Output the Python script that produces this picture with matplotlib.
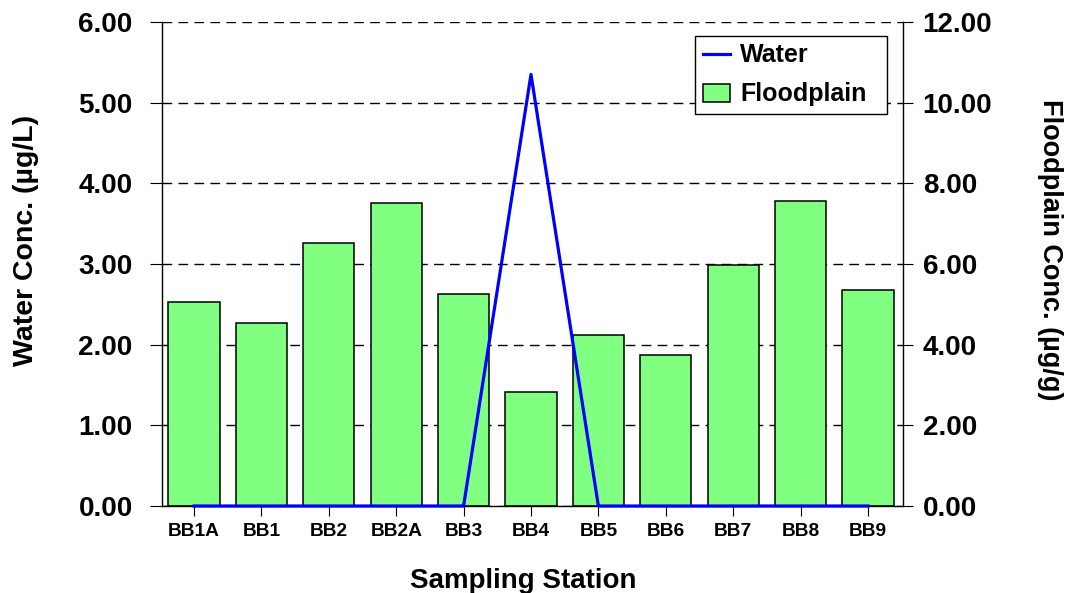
import matplotlib
matplotlib.use("Agg")
import matplotlib.pyplot as plt
from matplotlib.lines import Line2D
from matplotlib.patches import Patch
from matplotlib.ticker import FormatStrFormatter, MultipleLocator

plt.rcParams['font.family'] = ['Liberation Sans', 'DejaVu Sans']
plt.rcParams['font.weight'] = 'bold'

stations = ["BB1A", "BB1", "BB2", "BB2A", "BB3", "BB4", "BB5", "BB6", "BB7", "BB8", "BB9"]
water_ug_per_L = [0, 0, 0, 0, 0, 5.35, 0, 0, 0, 0, 0]
floodplain_ug_per_g = [5.05, 4.54, 6.51, 7.51, 5.26, 2.83, 4.24, 3.74, 5.98, 7.56, 5.36]

W, H = 1071, 593
fig = plt.figure(figsize=(W / 100, H / 100), dpi=100)
left, right, bottom, top = 162, 903, 506, 22
ax = fig.add_axes([left / W, 1 - bottom / H, (right - left) / W, (bottom - top) / H])
ax2 = ax.twinx()

x = list(range(len(stations)))

# Floodplain bars on the right-hand axis, gridlines beneath them
ax2.bar(x, floodplain_ug_per_g, width=0.76, color="#80ff80",
        edgecolor="black", linewidth=1.1, zorder=2)
ax2.set_ylim(0, 12)
ax2.yaxis.set_major_locator(MultipleLocator(2))
ax2.yaxis.set_major_formatter(FormatStrFormatter("%.2f"))
ax2.set_axisbelow(True)
ax2.grid(axis="y", color="black", linewidth=1.0, linestyle=(0, (7, 4.5)))

# Water line on the left-hand axis, drawn above the bars
ax.set_zorder(ax2.get_zorder() + 1)
ax.patch.set_visible(False)
ax.plot(x, water_ug_per_L, color="#0000ff", linewidth=2.3, clip_on=False, zorder=4)
ax.set_ylim(0, 6)
ax.set_xlim(-0.475, 10.52)
ax.yaxis.set_major_locator(MultipleLocator(1))
ax.yaxis.set_major_formatter(FormatStrFormatter("%.2f"))
ax.set_xticks(x)
ax.set_xticklabels(stations)

for a in (ax, ax2):
    a.spines["top"].set_visible(False)
    for s in a.spines.values():
        s.set_linewidth(1.0)
ax.spines["right"].set_visible(False)
ax2.spines["left"].set_visible(False)
ax2.spines["bottom"].set_visible(False)

ax.tick_params(axis="y", direction="out", length=8.6, width=0.8, pad=12.5, labelsize=20)
ax.tick_params(axis="x", direction="out", length=7.2, width=0.8, pad=5.2, labelsize=13.8)
ax2.tick_params(axis="y", direction="out", length=7.2, width=0.8, pad=7.0, labelsize=20)

ax.set_ylabel("Water Conc. (µg/L)", fontsize=20.5, fontweight="bold")
ax.yaxis.label.set_va("center")
ax.yaxis.set_label_coords((26 - left) / (right - left), (bottom - 240) / (bottom - top))

ax2.set_ylabel("Floodplain Conc. (µg/g)", fontsize=19.5, fontweight="bold", rotation=270)
ax2.yaxis.label.set_va("center")
ax2.yaxis.set_label_coords((1050 - left) / (right - left), (bottom - 250) / (bottom - top))

ax.set_xlabel("Sampling Station", fontsize=20, fontweight="bold")
ax.xaxis.label.set_va("baseline")
ax.xaxis.set_label_coords((523 - left) / (right - left), (bottom - 588) / (bottom - top))

handles = [Line2D([], [], color="#0000ff", linewidth=2.3),
           Patch(facecolor="#80ff80", edgecolor="black", linewidth=1.1)]
leg_x0, leg_x1, leg_y0 = 695, 887, 36
leg = ax.legend(handles, ["Water", "Floodplain"], loc="upper left",
                bbox_to_anchor=(leg_x0 / W, 1 - leg_y0 / H, (leg_x1 - leg_x0) / W, 0.0),
                bbox_transform=fig.transFigure, mode="expand",
                borderaxespad=0, fancybox=False, framealpha=1, edgecolor="black",
                fontsize=18, handlelength=1.1, handletextpad=0.4,
                labelspacing=0.6, borderpad=0.3)
leg.get_frame().set_linewidth(1.0)
for t in leg.get_texts():
    t.set_fontweight("bold")

fig.savefig("out.png", dpi=100)
